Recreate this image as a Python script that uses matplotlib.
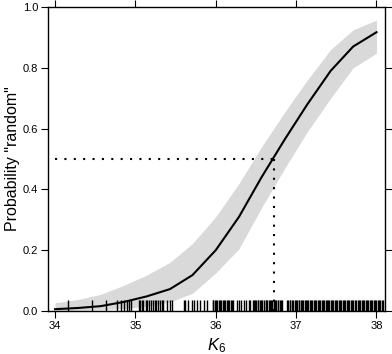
import matplotlib
matplotlib.use("Agg")
import matplotlib.pyplot as plt

plt.rcParams['font.family'] = ['Liberation Sans', 'DejaVu Sans']
plt.rcParams['mathtext.fontset'] = 'custom'
plt.rcParams['mathtext.rm'] = 'Liberation Sans'
plt.rcParams['mathtext.it'] = 'Liberation Sans:italic'

# fitted curve and confidence band at the model nodes
k6 = [34.00, 34.29, 34.57, 34.86, 35.14, 35.43, 35.71, 36.00,
      36.29, 36.57, 36.86, 37.14, 37.43, 37.71, 38.00]
prob = [0.006, 0.010, 0.016, 0.030, 0.048, 0.072, 0.118, 0.200,
        0.310, 0.440, 0.565, 0.680, 0.790, 0.870, 0.917]
upper = [0.027, 0.038, 0.055, 0.085, 0.118, 0.160, 0.222, 0.310,
         0.420, 0.540, 0.655, 0.760, 0.860, 0.925, 0.957]
lower = [0.001, 0.002, 0.004, 0.008, 0.016, 0.030, 0.058, 0.125,
         0.205, 0.340, 0.470, 0.590, 0.700, 0.800, 0.848]

# observed K6 values (rug)
rug = [34.16, 34.46, 34.63, 34.77, 34.82, 34.86, 34.89, 34.92, 34.95,
       35.04, 35.06, 35.08, 35.10, 35.13, 35.15, 35.17, 35.19, 35.22,
       35.24, 35.26, 35.28, 35.31, 35.33, 35.35, 35.39, 35.43, 35.46,
       35.60, 35.62, 35.65, 35.70, 35.73, 35.77, 35.80, 35.85, 35.89,
       35.96, 35.97, 35.99, 36.00, 36.02, 36.04, 36.05, 36.07, 36.09,
       36.10, 36.12, 36.14, 36.15, 36.17, 36.19, 36.20, 36.22,
       36.27, 36.29, 36.31, 36.35, 36.38, 36.41, 36.43,
       36.46, 36.47, 36.49, 36.50, 36.52, 36.53, 36.55, 36.56, 36.58,
       36.60, 36.62, 36.63, 36.64, 36.66, 36.67, 36.69, 36.70, 36.72,
       36.73, 36.74, 36.75, 36.77, 36.78, 36.80, 36.81, 36.82,
       36.89, 36.90, 36.92, 36.93, 36.95, 36.96, 36.98, 37.00, 37.01,
       37.03, 37.04, 37.06, 37.07, 37.09, 37.11, 37.12, 37.14, 37.15,
       37.17, 37.19, 37.20, 37.22, 37.23, 37.25, 37.27, 37.29, 37.30,
       37.32, 37.33, 37.35, 37.37, 37.38, 37.40, 37.41, 37.43, 37.45,
       37.46, 37.48, 37.50, 37.51, 37.53, 37.55, 37.56, 37.58, 37.60,
       37.61, 37.63, 37.65, 37.66, 37.68, 37.70, 37.71, 37.73, 37.75,
       37.77, 37.78, 37.80, 37.82, 37.83, 37.85, 37.87, 37.88, 37.90,
       37.92, 37.93, 37.95, 37.97, 37.98, 38.00, 38.02, 38.03, 38.05,
       38.07, 38.08]

# K6 at which P = 0.5
half_k6 = 36.73
half_p = 0.5

fig = plt.figure(figsize=(3.92, 3.54), dpi=100)
ax = fig.add_axes([48 / 392, 43 / 354, 337 / 392, 304 / 354])

ax.fill_between(k6, lower, upper, color='#d9d9d9', lw=0)
ax.plot(k6, prob, color='k', lw=1.5)
ax.vlines(rug, 0, 0.035, color='k', lw=1.0)

ax.plot([k6[0], half_k6], [half_p, half_p], color='k', lw=1.5,
        linestyle=(0, (1, 3.5)))
ax.plot([half_k6, half_k6], [half_p, 0], color='k', lw=1.5,
        linestyle=(0, (1, 3.5)))

ax.set_xlim(33.913, 38.106)
ax.set_ylim(0, 1)
ax.set_xticks([34, 35, 36, 37, 38])
ax.set_yticks([0, 0.2, 0.4, 0.6, 0.8, 1.0])
ax.set_yticklabels(['0.0', '0.2', '0.4', '0.6', '0.8', '1.0'])
ax.tick_params(direction='out', length=5, width=0.8, labelsize=8,
               top=True, right=True, pad=2)
for s in ax.spines.values():
    s.set_linewidth(1.0)

ax.set_xlabel('$K_6$', fontsize=12, labelpad=4)
ax.set_ylabel('Probability "random"', fontsize=11.5, labelpad=2)

fig.savefig('out.png', dpi=100)
